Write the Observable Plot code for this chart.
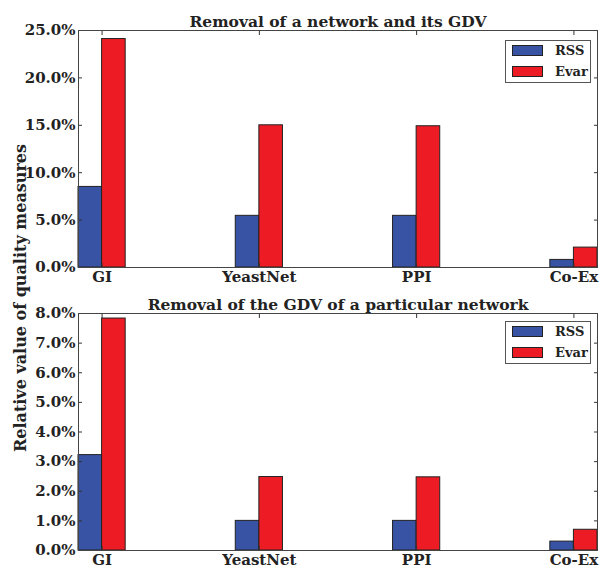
<!DOCTYPE html>
<html><head><meta charset="utf-8">
<script src="https://cdn.jsdelivr.net/npm/d3@7"></script>
<script src="https://cdn.jsdelivr.net/npm/@observablehq/plot@0.6"></script>
<style>
body{margin:0;background:#fff;}
#wrap{position:relative;width:608px;height:570px;font-family:"DejaVu Serif",serif;font-weight:bold;color:#222;}
.panel{position:absolute;left:0;}
.panel svg{overflow:visible;}
.legend{position:absolute;border:1px solid #555;background:#fff;box-sizing:border-box;}
.legend .sw{position:absolute;box-sizing:border-box;border:1px solid #222;}
.legend .lb{position:absolute;font-size:13px;line-height:13px;}
#ylab{position:absolute;left:20px;top:298px;transform:translate(-50%,-50%) rotate(-90deg);white-space:nowrap;font-size:16px;}
</style></head><body><div id="wrap"></div>
<script>
const categories = ["GI", "YeastNet", "PPI", "Co-Ex"];
const series = ["RSS", "Evar"];
const colors = ["#3953a4", "#ed1c24"];
const networkRSS = [8.5, 5.45, 5.45, 0.8];
const networkEvar = [24.1, 15.0, 14.9, 2.1];
const gdvRSS = [3.22, 1.0, 1.0, 0.3];
const gdvEvar = [7.83, 2.48, 2.47, 0.7];
const networkTicks = [0, 5, 10, 15, 20, 25];
const gdvTicks = [0, 1, 2, 3, 4, 5, 6, 7, 8];
const titles = ["Removal of a network and its GDV", "Removal of the GDV of a particular network"];
const yLabel = "Relative value of quality measures";

const wrap = document.getElementById("wrap");
const W = 0.15;

function panel(rss, evar, ticks, title, top, height, mt, mb, legendTop) {
  const rows = [];
  categories.forEach((c, i) => {
    rows.push({c, i, s: series[0], v: rss[i]});
    rows.push({c, i, s: series[1], v: evar[i]});
  });
  const catIdx = categories.map((c, i) => i);
  const p = Plot.plot({
    width: 608, height, marginLeft: 78, marginRight: 11, marginTop: mt, marginBottom: mb,
    style: {fontFamily: "DejaVu Serif, serif", fontWeight: "bold", fontSize: "15px", background: "transparent", color: "#222"},
    x: {domain: [-W, categories.length - 1 + W], axis: null},
    y: {domain: [0, ticks[ticks.length - 1]], axis: null},
    color: {domain: series, range: colors},
    marks: [
      Plot.rectY(rows, {
        x1: d => d.s === series[0] ? d.i - W : d.i,
        x2: d => d.s === series[0] ? d.i : d.i + W,
        y1: 0, y2: "v", fill: "s", stroke: "#222", strokeWidth: 1
      }),
      Plot.axisY(ticks, {anchor: "left", tickSize: 0, tickPadding: 3, tickFormat: d => d.toFixed(1) + "%", fontSize: 15, label: null}),
      Plot.axisY(ticks, {anchor: "left", tickSize: -4, fill: null, stroke: "#333", label: null}),
      Plot.axisY(ticks, {anchor: "right", tickSize: -4, fill: null, stroke: "#333", label: null}),
      Plot.axisX(catIdx, {anchor: "bottom", tickSize: 0, tickPadding: 4, tickFormat: i => categories[i], fontSize: 15, label: null}),
      Plot.axisX(catIdx, {anchor: "bottom", tickSize: -4, fill: null, stroke: "#333", label: null}),
      Plot.axisX(catIdx, {anchor: "top", tickSize: -4, fill: null, stroke: "#333", label: null}),
      Plot.frame({stroke: "#444"}),
      Plot.text([title], {frameAnchor: "top", dy: -4, lineAnchor: "bottom", fontSize: 15.5, fill: "#222"})
    ]
  });
  const div = document.createElement("div");
  div.className = "panel";
  div.style.top = top + "px";
  div.appendChild(p);
  wrap.appendChild(div);

  const lg = document.createElement("div");
  lg.className = "legend";
  lg.style.left = "505px"; lg.style.top = legendTop + "px";
  lg.style.width = "86px"; lg.style.height = "43px";
  series.forEach((s, k) => {
    const sw = document.createElement("div");
    sw.className = "sw";
    sw.style.left = "6px"; sw.style.top = (4 + k * 21) + "px";
    sw.style.width = "31px"; sw.style.height = "11px";
    sw.style.background = colors[k];
    lg.appendChild(sw);
    const lb = document.createElement("div");
    lb.className = "lb";
    lb.style.left = "49px"; lb.style.top = (3 + k * 21) + "px";
    lb.textContent = s;
    lg.appendChild(lb);
  });
  wrap.appendChild(lg);
}

panel(networkRSS, networkEvar, networkTicks, titles[0], 0, 285, 30, 18, 40);
panel(gdvRSS, gdvEvar, gdvTicks, titles[1], 285, 285, 28, 20, 321);

const yl = document.createElement("div");
yl.id = "ylab";
yl.textContent = yLabel;
wrap.appendChild(yl);
</script></body></html>
